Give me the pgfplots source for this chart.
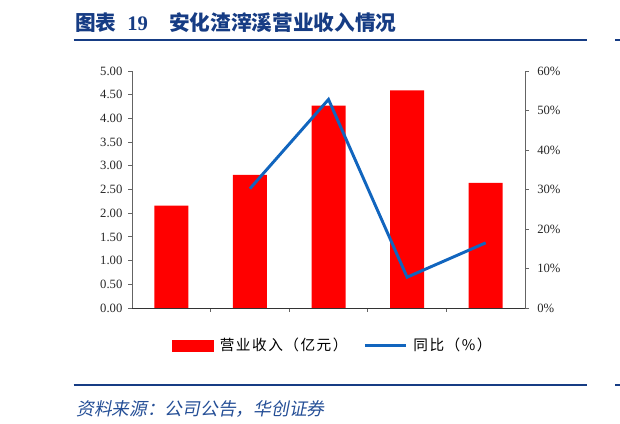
\documentclass[border=0pt]{standalone}
\usepackage{pgfplots}
\pgfplotsset{compat=1.18}
\usepackage{fontspec}
\setmainfont{Liberation Serif}
\newfontfamily\cjk{Noto Sans CJK SC}
\newfontfamily\cjkl{Noto Sans CJK SC}[LetterSpace=10]
\newfontfamily\cjkit{Noto Sans CJK SC}[FakeSlant=0.2]
\definecolor{navy}{RGB}{22,60,132}
\definecolor{barred}{RGB}{255,0,0}
\definecolor{lineblue}{RGB}{17,101,190}
\definecolor{srcblue}{RGB}{36,78,150}
\definecolor{axgray}{RGB}{100,100,100}
\newcommand\PX[2]{({#1*0.75pt},{(424-#2)*0.75pt})}
\begin{document}
\begin{tikzpicture}
\path[use as bounding box] (0,0) rectangle (465pt,318pt);
% title
\node[anchor=west, inner sep=0pt, text=navy, font=\bfseries\fontsize{15.5}{17}\selectfont] at \PX{75}{22.5}
  {\cjk 图表\hspace{8pt}{\rmfamily\bfseries 19}\hspace{16pt}安化渣滓溪营业收入情况};
\draw[navy, line width=1.5pt] \PX{73.6}{40} -- \PX{587}{40};
\draw[navy, line width=1.5pt] \PX{615}{40} -- \PX{620}{40};
\draw[navy, line width=1.5pt] \PX{73.6}{385.5} -- \PX{587}{385.5};
\draw[navy, line width=1.5pt] \PX{615}{385.5} -- \PX{620}{385.5};
\node[anchor=west, inner sep=0pt, text=srcblue, font=\cjkit\fontsize{13.3}{15}\selectfont] at \PX{76}{409}
  {资料来源：公司公告，华创证券};
\pgfplotsset{
  base/.style={
    at={(99pt,87pt)}, anchor=south west, scale only axis,
    width=294.75pt, height=177.75pt,
    xmin=-0.5, xmax=4.5,
    tick align=outside, major tick length=3pt,
    every tick/.style={axgray, line width=0.6pt},
    axis line style={axgray, line width=0.7pt},
    ticklabel style={font=\fontsize{9.5}{11}\selectfont, text=black!85},
    /pgf/number format/assume math mode=true,
  }
}
\begin{axis}[base,
  ymin=0, ymax=5,
  axis x line*=bottom, axis y line*=left,
  x axis line style={-, black!80, line width=0.7pt},
  y axis line style={-},
  xtick={0.5,1.5,2.5,3.5}, xticklabels={},
  ytick={0,0.5,1,1.5,2,2.5,3,3.5,4,4.5,5},
  /pgf/number format/fixed, /pgf/number format/fixed zerofill, /pgf/number format/precision=2,
  yticklabel style={inner sep=0pt, xshift=-4pt},
]
\addplot[ybar, bar width=25.5pt, fill=barred, draw=none]
  coordinates {(0,2.16) (1,2.81) (2,4.27) (3,4.59) (4,2.64)};
\end{axis}
\begin{axis}[base,
  ymin=0, ymax=60,
  axis x line=none, axis y line*=right,
  y axis line style={-},
  ytick={0,10,20,30,40,50,60},
  yticklabel={\pgfmathprintnumber{\tick}\%},
  yticklabel style={inner sep=0pt, xshift=6pt},
  legend columns=2,
  legend style={at={(0.512,-0.159)}, anchor=center, draw=none, fill=none,
    font=\cjkl\fontsize{11}{13}\selectfont, inner sep=0pt,
    /tikz/every even column/.append style={column sep=10pt},
    /tikz/every odd column/.append style={column sep=2.5pt}},
]
\addlegendimage{legend image code/.code={\fill[barred] (0pt,-4.1pt) rectangle (30.75pt,4.1pt);}}
\addlegendentry{营业收入（亿元）}
\addplot[lineblue, line width=2.2pt, no marks,
  legend image code/.code={\draw[lineblue, line width=2.2pt] (0pt,0pt) -- (30.75pt,0pt);}]
  coordinates {(1,30.2) (2,52.8) (3,7.8) (4,16.5)};
\addlegendentry{同比（\%）}
\end{axis}
\end{tikzpicture}
\end{document}
